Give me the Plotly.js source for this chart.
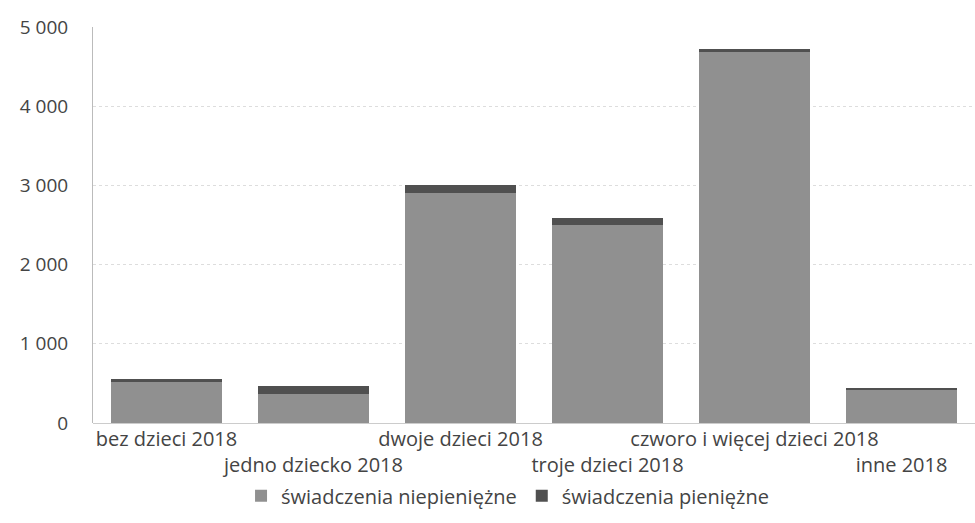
<!DOCTYPE html>
<html>
<head>
<meta charset="utf-8">
<script src="https://cdn.plot.ly/plotly-3.0.1.min.js"></script>
<style>
  html, body { margin: 0; padding: 0; background: #fff; }
  #chart { width: 975px; height: 523px; }
</style>
</head>
<body>
<div id="chart"></div>
<script>
var categories = ['bez dzieci 2018', 'jedno dziecko 2018', 'dwoje dzieci 2018',
                  'troje dzieci 2018', 'czworo i więcej dzieci 2018', 'inne 2018'];
var niepieniezne = [530, 370, 2900, 2505, 4690, 420];
var pieniezne = [20, 100, 110, 85, 30, 10];
var yTicks = [0, 1000, 2000, 3000, 4000, 5000];

// every second label sits one line lower, as in the original
var tickText = categories.map(function (c, i) {
  return i % 2 === 1 ? '<br>' + c : c;
});

var traces = [
  {
    type: 'bar',
    name: 'świadczenia niepieniężne',
    x: categories,
    y: niepieniezne,
    marker: { color: '#909090' },
    hovertemplate: '%{x}: %{y}<extra></extra>'
  },
  {
    type: 'bar',
    name: 'świadczenia pieniężne',
    x: categories,
    y: pieniezne,
    marker: { color: '#505050' },
    hovertemplate: '%{x}: %{y}<extra></extra>'
  }
];

var layout = {
  width: 975,
  height: 523,
  barmode: 'stack',
  bargap: 0.25,
  separators: ', ',
  paper_bgcolor: '#ffffff',
  plot_bgcolor: '#ffffff',
  font: { family: 'Open Sans, sans-serif', size: 20, color: '#444' },
  xaxis: {
    tickvals: categories,
    ticktext: tickText,
    showgrid: false,
    showline: false,
    ticks: '',
    tickangle: 0,
    ticklabelstandoff: 2,
    automargin: false
  },
  yaxis: {
    range: [0, 5000],
    tickvals: yTicks,
    tickformat: ',d',
    tickfont: { size: 19 },
    showgrid: true,
    gridcolor: '#dddddd',
    griddash: 'dot',
    showline: true,
    linecolor: '#bbbbbb',
    zeroline: true,
    zerolinecolor: '#cccccc',
    ticklabelstandoff: 20,
    automargin: false
  },
  showlegend: true,
  legend: {
    orientation: 'h',
    x: 0.47,
    xanchor: 'center',
    yref: 'container',
    y: 0.052,
    yanchor: 'middle',
    traceorder: 'normal',
    bgcolor: 'rgba(0,0,0,0)',
    font: { size: 20, color: '#444' }
  },
  margin: { l: 93, r: 0, t: 27, b: 100 }
};

Plotly.newPlot('chart', traces, layout, { displayModeBar: false });
</script>
</body>
</html>
